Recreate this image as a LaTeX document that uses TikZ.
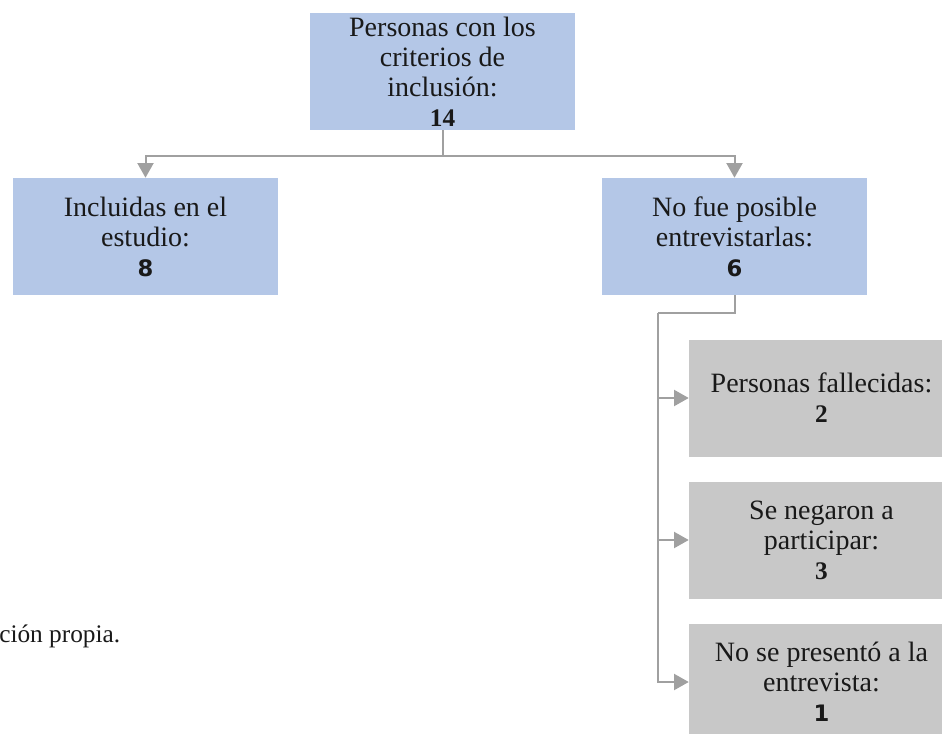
\documentclass[tikz,border=0pt]{standalone}
\usepackage{fontspec}
\setmainfont{Liberation Serif}
\newfontfamily\numsans{DejaVu Sans}
\usetikzlibrary{arrows.meta}
\definecolor{boxblue}{RGB}{180,199,231}
\definecolor{boxgray}{RGB}{200,200,200}
\definecolor{linegray}{RGB}{160,160,160}
\definecolor{txt}{RGB}{25,25,25}
\tikzset{
  basebox/.style={rectangle, minimum width=198.75pt, minimum height=87.75pt, inner sep=0pt, align=center, text=txt, font=\fontsize{21}{22.5}\selectfont},
  bluebox/.style={basebox, fill=boxblue},
  graybox/.style={basebox, fill=boxgray},
  conn/.style={draw=linegray, line width=1.5pt},
  arr/.style={conn, -{Triangle[length=11pt,width=12pt]}},
}
\newcommand{\nserif}[1]{{\fontsize{19}{22.5}\selectfont\bfseries #1}}
\newcommand{\nsans}[1]{{\numsans\fontsize{17}{22.5}\selectfont\bfseries #1}}
\begin{document}
\begin{tikzpicture}[x=0.75pt,y=-0.75pt]
\path[use as bounding box] (0,0) rectangle (942,734);
\clip (0,0) rectangle (942,734);
\node[bluebox] (top) at (442.5,71.5) {Personas con los\\criterios de\\inclusión:\\\nserif{14}};
\node[bluebox] (inc) at (145.5,236.5) {Incluidas en el\\estudio:\\\nsans{8}};
\node[bluebox] (nofue) at (734.5,236.5) {No fue posible\\entrevistarlas:\\\nsans{6}};
\node[graybox] (g1) at (821.5,398) {Personas fallecidas:\\\nserif{2}};
\node[graybox] (g2) at (821.5,540) {Se negaron a\\participar:\\\nserif{3}};
\node[graybox] (g3) at (821.5,682) {No se presentó a la\\entrevista:\\\nsans{1}};
\node[anchor=base west, text=txt, font=\fontsize{19}{21}\selectfont, inner sep=0pt] (src) at (-1,642) {ción propia.};
\coordinate (split) at (442.5,156);
\coordinate (bus) at (658,313);
\draw[conn] (top.south) -- (split);
\draw[arr] (split) -| (inc.north);
\draw[arr] (split) -| (nofue.north);
\draw[conn] (nofue.south) |- (bus);
\draw[arr] (bus) |- (g1.west);
\draw[arr] (bus) |- (g2.west);
\draw[arr] (bus) |- (g3.west);
\end{tikzpicture}
\end{document}
